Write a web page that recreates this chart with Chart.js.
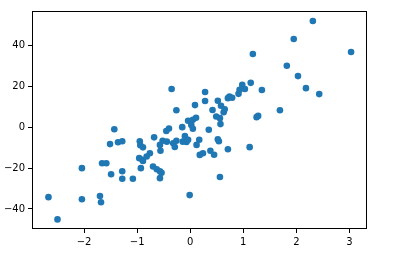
<!DOCTYPE html>
<html>
<head>
<meta charset="utf-8">
<script src="https://cdn.jsdelivr.net/npm/chart.js@4"></script>
<style>
  body { margin: 0; background: #fff; }
  canvas { display: block; }
</style>
</head>
<body>
<canvas id="scatterChart" width="398" height="254"></canvas>
<script>
// point values
const xVals = [
    -2.67, -2.50, -2.04, -2.04, -1.70, -1.68, -1.66, -1.58, -1.49, -1.28,
    -1.28, -1.08, -1.43, -1.51, -1.36, -1.28, -0.95, -0.94, -0.89, -0.96,
    -0.89, -0.82, -0.76, -0.93, -0.68, -0.70, -0.63, -0.57, -0.54, -0.57,
    -0.52, -0.57, -0.56, -0.45, -0.40, -0.32, -0.26, -0.29, -0.14, -0.10,
    -0.07, -0.04, -0.35, -0.26, 0.09, -0.04, 0.05, 0.11, 0.02, 0.05,
    -0.15, 0.12, 0.17, 0.18, 0.24, 0.35, 0.38, 0.45, 0.54, 0.71,
    0.56, -0.01, 1.12, 0.49, 0.56, 0.57, 0.28, 0.28, 0.42, 0.52,
    0.58, 0.63, 0.71, 0.74, 0.79, 0.91, 0.93, 0.98, 1.03, 1.14,
    1.35, 1.25, 1.28, 1.18, 1.69, 1.82, 1.95, 2.03, 2.18, 2.31,
    2.43, 3.03, 0.52, 0.65, -0.44, -0.90
];
const yVals = [
    -34.2, -45.1, -20.0, -35.2, -33.6, -36.7, -17.6, -17.6, -23.0, -21.5,
    -25.2, -25.2, -0.9, -8.2, -7.3, -6.8, -6.8, -8.8, -9.8, -15.1,
    -16.5, -14.3, -12.7, -20.0, -4.9, -19.2, -20.5, -21.5, -22.3, -24.9,
    -6.6, -8.6, -11.5, -1.8, -0.6, -7.8, -6.6, -9.6, -7.0, -4.3,
    -7.2, -6.1, 18.8, 8.4, 10.9, 3.2, 3.7, 4.7, 1.2, -0.7,
    0.1, -8.6, -6.1, -13.5, -12.7, -1.2, -11.5, -13.4, -6.8, -10.7,
    -24.3, -33.2, -9.7, 5.3, 4.5, 1.6, 17.3, 12.9, 8.5, 13.0,
    10.6, 7.4, 14.3, 15.1, 14.5, 16.4, 18.4, 20.8, 18.8, 21.8,
    18.3, 5.0, 5.6, 35.9, 8.4, 30.2, 43.3, 25.1, 19.2, 52.1,
    16.3, 36.9, -5.8, 8.9, -7.0, -15.9
];

const xTicks = [-2, -1, 0, 1, 2, 3];
const yTicks = [-40, -20, 0, 20, 40];

const points = xVals.map((x, i) => ({ x: x, y: yVals[i] }));

// draws the full black box round the plot, like matplotlib spines
const boxPlugin = {
    id: 'box',
    afterDraw(chart) {
        const a = chart.chartArea;
        const ctx = chart.ctx;
        ctx.save();
        ctx.strokeStyle = '#000';
        ctx.lineWidth = 1;
        ctx.strokeRect(Math.round(a.left) + 0.5, Math.round(a.top) + 0.5,
            Math.round(a.right - a.left) - 1, Math.round(a.bottom - a.top) - 1);
        ctx.restore();
    }
};

const tickFont = { family: 'DejaVu Sans', size: 10 };

new Chart(document.getElementById('scatterChart'), {
    type: 'scatter',
    data: {
        datasets: [{
            data: points,
            backgroundColor: '#1f77b4',
            borderWidth: 0,
            pointRadius: 3.3,
            pointHoverRadius: 3.3
        }]
    },
    options: {
        responsive: false,
        animation: false,
        events: [],
        layout: { padding: { top: 11, right: 31, left: 0, bottom: 0 } },
        scales: {
            x: {
                type: 'linear',
                min: -2.98,
                max: 3.33,
                afterBuildTicks: s => { s.ticks = xTicks.map(v => ({ value: v })); },
                afterFit: s => { s.height = 25; },
                grid: { display: true, drawOnChartArea: false, drawTicks: true, tickLength: 4, color: '#000' },
                border: { display: false },
                ticks: { color: '#000', font: tickFont, padding: 3, maxRotation: 0,
                    callback: v => (v < 0 ? '\u2212' + Math.abs(v) : '' + v) }
            },
            y: {
                type: 'linear',
                min: -49.8,
                max: 57.0,
                afterBuildTicks: s => { s.ticks = yTicks.map(v => ({ value: v })); },
                afterFit: s => { s.width = 32; },
                grid: { display: true, drawOnChartArea: false, drawTicks: true, tickLength: 4, color: '#000' },
                border: { display: false },
                ticks: { color: '#000', font: tickFont, padding: 3,
                    callback: v => (v < 0 ? '\u2212' + Math.abs(v) : '' + v) }
            }
        },
        plugins: {
            legend: { display: false },
            tooltip: { enabled: false }
        }
    },
    plugins: [boxPlugin]
});
</script>
</body>
</html>
